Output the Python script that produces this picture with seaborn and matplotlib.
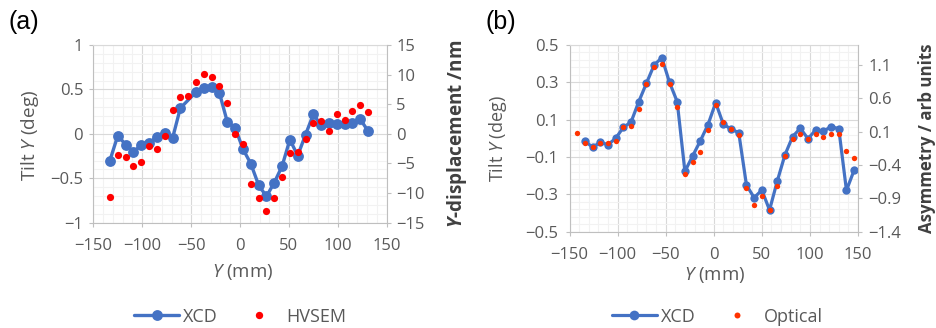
import matplotlib
matplotlib.use("Agg")
import numpy as np
import matplotlib.pyplot as plt
from matplotlib.ticker import MultipleLocator, FixedLocator, FuncFormatter
from matplotlib.lines import Line2D
import seaborn as sns

# panel (a): XCD tilt and HVSEM displacement
xcd_a_pos = [-133, -125, -117, -109, -101, -93, -85, -77, -69, -61, -45, -37, -29, -21,
             -13, -5, 3, 11, 19, 27, 35, 43, 51, 59, 67, 75, 83, 91, 99, 107, 115, 123, 131]
xcd_a_tilt = [-0.30, -0.02, -0.12, -0.20, -0.13, -0.10, -0.035, 0.015, -0.05, 0.29, 0.47,
              0.515, 0.53, 0.46, 0.135, 0.07, -0.17, -0.335, -0.575, -0.705, -0.55, -0.365,
              -0.065, -0.245, -0.01, 0.22, 0.095, 0.12, 0.115, 0.11, 0.12, 0.165, 0.03]

hvsem_pos = [-133, -125, -117, -109, -101, -93, -85, -77, -69, -61, -53, -45, -37, -29, -21,
             -13, -5, 3, 11, 19, 27, 35, 43, 51, 59, 67, 75, 83, 91, 99, 107, 115, 123, 131]
hvsem_disp = [-10.6, -3.5, -3.9, -5.4, -4.7, -2.0, -2.6, -0.4, 4.0, 6.2, 6.4, 8.8, 10.1, 9.6,
              8.1, 5.2, 0.0, -1.7, -8.4, -10.9, -13.0, -10.8, -7.3, -3.3, -3.1, -0.8, 1.8,
              2.1, 0.5, 3.3, 2.3, 3.9, 4.9, 3.7]

# panel (b): XCD tilt and optical asymmetry
xcd_b_pos = [-134, -126, -118, -110, -102, -94, -86, -78, -70, -62, -54, -46, -38, -30, -22,
             -14, -6, 2, 10, 18, 26, 34, 42, 50, 58, 66, 74, 82, 90, 98, 106, 114, 122, 130,
             138, 146]
xcd_b_tilt = [-0.014, -0.048, -0.021, -0.034, 0.0, 0.059, 0.087, 0.196, 0.295, 0.393, 0.432,
              0.300, 0.196, -0.177, -0.095, -0.014, 0.073, 0.191, 0.075, 0.05, 0.030, -0.25,
              -0.318, -0.277, -0.384, -0.23, -0.089, 0.009, 0.054, -0.002, 0.045, 0.039,
              0.062, 0.052, -0.279, -0.17]

optical_pos = [-142, -134, -126, -118, -110, -102, -94, -86, -78, -70, -62, -54, -46, -38,
               -30, -22, -14, -6, 2, 10, 18, 26, 34, 42, 50, 58, 66, 74, 82, 90, 98, 106,
               114, 122, 130, 138, 146]
optical_asym = [0.075, -0.066, -0.135, -0.075, -0.066, -0.045, 0.165, 0.18, 0.44, 0.81,
                1.065, 1.114, 0.81, 0.474, -0.535, -0.355, -0.2, 0.125, 0.495, 0.24, 0.145,
                0.045, -0.75, -0.995, -0.86, -1.075, -0.72, -0.26, -0.015, 0.065, -0.005,
                0.06, 0.025, 0.06, 0.06, -0.185, -0.29]

BLUE = "#4472C4"
RED = "#FF0000"
ORANGE = "#FF3300"
GREY_TXT = "#595959"
AXIS_C = "#BFBFBF"

sns.set_theme(style="white")
plt.rcParams['font.family'] = ['Open Sans', 'DejaVu Sans']
plt.rcParams['mathtext.fontset'] = 'custom'
plt.rcParams['mathtext.rm'] = 'Open Sans'
plt.rcParams['mathtext.it'] = 'Open Sans:italic'
plt.rcParams['mathtext.bf'] = 'Open Sans:bold'
plt.rcParams['mathtext.bfit'] = 'Open Sans:bold:italic'

fmt = FuncFormatter(lambda v, p: ('%g' % round(v, 3)).replace('-', '\u2212'))

fig = plt.figure(figsize=(9.36, 3.28), dpi=100)
ax_a = fig.add_axes([93.3 / 936, (328 - 222.7) / 328, 293.4 / 936, 177.7 / 328])
ax_b = fig.add_axes([569.5 / 936, (328 - 231.7) / 328, 288.5 / 936, 186.7 / 328])


def style_axes(ax, ax2, pad_l, pad_r):
    ax.set_xlim(-150, 150)
    ax.xaxis.set_major_locator(MultipleLocator(50))
    ax.xaxis.set_minor_locator(MultipleLocator(10))
    ax.xaxis.set_major_formatter(fmt)
    ax.yaxis.set_major_formatter(fmt)
    ax2.yaxis.set_major_formatter(fmt)
    ax.set_axisbelow(True)
    ax.grid(which='major', color='#D9D9D9', linewidth=0.8)
    ax.grid(which='minor', color='#F2F2F2', linewidth=0.8)
    ax.tick_params(which='major', direction='out', length=3, width=0.8, color=AXIS_C,
                   labelsize=12, labelcolor=GREY_TXT)
    ax.tick_params(axis='y', which='major', pad=pad_l)
    ax.tick_params(axis='x', which='major', pad=8)
    ax.tick_params(which='minor', length=0)
    ax2.tick_params(direction='out', length=3, width=0.8, color=AXIS_C,
                    labelsize=12, labelcolor=GREY_TXT, pad=pad_r)
    ax.tick_params(left=True, bottom=True)
    ax2.tick_params(right=True)
    for s in ['left', 'bottom']:
        ax.spines[s].set_color(AXIS_C)
        ax.spines[s].set_linewidth(0.8)
    ax.spines['top'].set_color('#D9D9D9')
    ax.spines['top'].set_linewidth(0.8)
    ax.spines['right'].set_visible(False)
    for s in ['left', 'bottom', 'top']:
        ax2.spines[s].set_visible(False)
    ax2.spines['right'].set_color(AXIS_C)
    ax2.spines['right'].set_linewidth(0.8)
    ax2.grid(False)


# panel (a)
ax_a2 = ax_a.twinx()
sns.lineplot(x=xcd_a_pos, y=xcd_a_tilt, ax=ax_a, sort=False, color=BLUE, linewidth=2.4,
             marker='o', markersize=7.8, markeredgewidth=0, zorder=3)
sns.scatterplot(x=hvsem_pos, y=hvsem_disp, ax=ax_a2, color=RED, s=27, linewidth=0, zorder=4)
ax_a.set_ylim(-1, 1)
ax_a.yaxis.set_major_locator(MultipleLocator(0.5))
ax_a.yaxis.set_minor_locator(MultipleLocator(0.1))
ax_a2.set_ylim(-15, 15)
ax_a2.yaxis.set_major_locator(MultipleLocator(5))
style_axes(ax_a, ax_a2, 4.3, 3.8)

# panel (b)
ax_b2 = ax_b.twinx()
sns.lineplot(x=xcd_b_pos, y=xcd_b_tilt, ax=ax_b, sort=False, color=BLUE, linewidth=2.3,
             marker='o', markersize=6, markeredgewidth=0, zorder=3)
sns.scatterplot(x=optical_pos, y=optical_asym, ax=ax_b2, color=ORANGE, s=15, linewidth=0,
                zorder=4)
ax_b.set_ylim(-0.5, 0.5)
ax_b.yaxis.set_major_locator(FixedLocator([-0.5, -0.3, -0.1, 0.1, 0.3, 0.5]))
ax_b.yaxis.set_minor_locator(FixedLocator(np.arange(-0.5, 0.51, 0.04)))
ax_b2.set_ylim(-1.4, 1.4)
ax_b2.yaxis.set_major_locator(FixedLocator([-1.4, -0.9, -0.4, 0.1, 0.6, 1.1]))
style_axes(ax_b, ax_b2, 5, 4.3)

# axis titles
ax_a.set_xlabel(r'$\mathit{Y}$ (mm)', fontsize=13.4, color=GREY_TXT)
ax_a.set_ylabel(r'Tilt $\mathit{Y}$ (deg)', fontsize=13.7, color=GREY_TXT)
ax_a2.set_ylabel(r'$\mathbfit{Y}$-displacement /nm', fontsize=13.6, color='#404040',
                 fontweight='bold')
ax_b.set_xlabel(r'$\mathit{Y}$ (mm)', fontsize=13.4, color=GREY_TXT)
ax_b.set_ylabel(r'Tilt $\mathit{Y}$ (deg)', fontsize=13, color=GREY_TXT)
ax_b2.set_ylabel('Asymmetry / arb units', fontsize=12.2, color='#404040',
                 fontweight='bold')

ax_a.xaxis.set_label_coords(0.507, -0.277)
ax_a.yaxis.set_label_coords(-0.2157, 0.49)
ax_a2.yaxis.set_label_coords(1.2396, 0.5)
ax_b.xaxis.set_label_coords(0.504, -0.232)
ax_b.yaxis.set_label_coords(-0.2468, 0.5)
ax_b2.yaxis.set_label_coords(1.238, 0.5)
for lab in (ax_a.xaxis.label, ax_b.xaxis.label, ax_a.yaxis.label, ax_b.yaxis.label,
            ax_a2.yaxis.label, ax_b2.yaxis.label):
    lab.set_va('center')
    lab.set_ha('center')

for ax in (ax_a2, ax_b2):
    leg = ax.get_legend()
    if leg is not None:
        leg.remove()

fig.text(8 / 936, 1 - 22 / 328, '(a)', fontsize=18, family='Liberation Sans',
         va='center', ha='left', color='black')
fig.text(485 / 936, 1 - 22.5 / 328, '(b)', fontsize=18, family='Liberation Sans',
         va='center', ha='left', color='black')

# legends
xcd_a_handle = Line2D([], [], color=BLUE, linewidth=2.4, marker='o', markersize=7.8,
                      markeredgewidth=0)
xcd_b_handle = Line2D([], [], color=BLUE, linewidth=2.3, marker='o', markersize=7,
                      markeredgewidth=0)
hv_handle = Line2D([], [], color=RED, linestyle='none', marker='o', markersize=5.3,
                   markeredgewidth=0)
op_handle = Line2D([], [], color=ORANGE, linestyle='none', marker='o', markersize=4.3,
                   markeredgewidth=0)
leg_kw = dict(loc='center', ncol=2, frameon=False, handlelength=2.5, handletextpad=0.22,
              columnspacing=1.05, prop={'size': 13})
la = fig.legend([xcd_a_handle, hv_handle], ['XCD', 'HVSEM'],
                bbox_to_anchor=(240 / 936, 11.3 / 328), **leg_kw)
lb = fig.legend([xcd_b_handle, op_handle], ['XCD', 'Optical'],
                bbox_to_anchor=(717 / 936, 11.3 / 328), **leg_kw)
for lg in (la, lb):
    for t in lg.get_texts():
        t.set_color(GREY_TXT)

fig.savefig('out.png', dpi=100)
